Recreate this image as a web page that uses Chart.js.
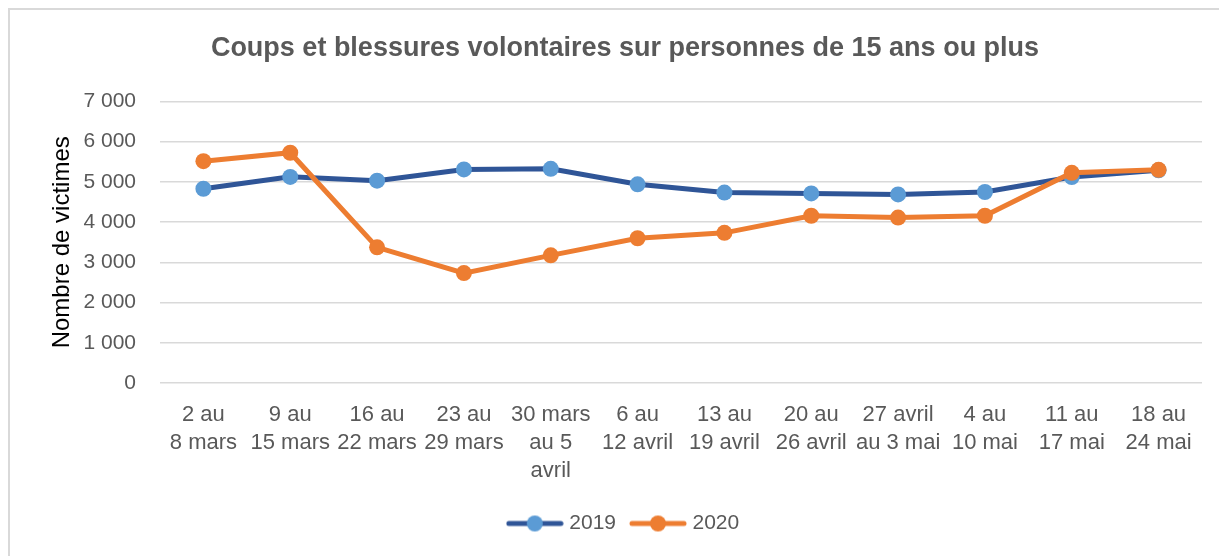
<!DOCTYPE html>
<html lang="fr">
<head>
<meta charset="utf-8">
<title>Coups et blessures volontaires</title>
<script src="https://cdn.jsdelivr.net/npm/chart.js@4.4.1/dist/chart.umd.min.js"></script>
<style>
  html, body { margin: 0; padding: 0; background: #ffffff; }
  #cadre {
    position: absolute; left: 8px; top: 8px; width: 1300px; height: 600px;
    border-left: 2px solid #d9d9d9; border-top: 2px solid #d9d9d9;
  }
  #zone { position: absolute; left: 0; top: 0; width: 1219px; height: 556px; overflow: hidden; }
  #graphique { position: absolute; left: 0; top: 0; }
</style>
</head>
<body>
<div id="zone">
  <div id="cadre"></div>
  <canvas id="graphique" width="1219" height="556"></canvas>
</div>
<script>
// Semaines (libellés sur plusieurs lignes)
const semaines = [
  ["2 au", "8 mars"],
  ["9 au", "15 mars"],
  ["16 au", "22 mars"],
  ["23 au", "29 mars"],
  ["30 mars", "au 5", "avril"],
  ["6 au", "12 avril"],
  ["13 au", "19 avril"],
  ["20 au", "26 avril"],
  ["27 avril", "au 3 mai"],
  ["4 au", "10 mai"],
  ["11 au", "17 mai"],
  ["18 au", "24 mai"]
];

// Nombre de victimes
const victimes2019 = [4830, 5125, 5030, 5310, 5325, 4940, 4735, 4715, 4690, 4750, 5120, 5290];
const victimes2020 = [5515, 5725, 3375, 2735, 3175, 3600, 3735, 4160, 4115, 4160, 5225, 5300];

const titreGraphique = "Coups et blessures volontaires sur personnes de 15 ans ou plus";
const titreAxeY = "Nombre de victimes";

const bleuLigne = "#2f5597";
const bleuPoint = "#5b9bd5";
const orange = "#ed7d31";
const gris = "#595959";

// symbole de légende : trait + point
function symbole(couleurLigne, couleurPoint) {
  const c = document.createElement("canvas");
  c.width = 58;
  c.height = 20;
  const ctx = c.getContext("2d");
  ctx.strokeStyle = couleurLigne;
  ctx.lineWidth = 5;
  ctx.lineCap = "round";
  ctx.beginPath();
  ctx.moveTo(3, 10);
  ctx.lineTo(55, 10);
  ctx.stroke();
  ctx.fillStyle = couleurPoint;
  ctx.beginPath();
  ctx.arc(29, 10, 8, 0, Math.PI * 2);
  ctx.fill();
  return c;
}

function formatMilliers(v) {
  return v.toString().replace(/\B(?=(\d{3})+(?!\d))/g, " ");
}

const ctx = document.getElementById("graphique").getContext("2d");

new Chart(ctx, {
  type: "line",
  data: {
    labels: semaines,
    datasets: [
      {
        label: "2019",
        data: victimes2019,
        borderColor: bleuLigne,
        backgroundColor: bleuPoint,
        pointBackgroundColor: bleuPoint,
        pointBorderWidth: 0,
        pointRadius: 8,
        borderWidth: 5,
        tension: 0,
        order: 1,
        symbole: symbole(bleuLigne, bleuPoint)
      },
      {
        label: "2020",
        data: victimes2020,
        borderColor: orange,
        backgroundColor: orange,
        pointBackgroundColor: orange,
        pointBorderWidth: 0,
        pointRadius: 8,
        borderWidth: 5,
        tension: 0,
        order: 0,
        symbole: symbole(orange, orange)
      }
    ]
  },
  options: {
    responsive: false,
    animation: false,
    layout: {
      padding: { left: 48, right: 17, top: 32, bottom: 12 }
    },
    plugins: {
      title: {
        display: true,
        text: titreGraphique,
        color: gris,
        font: { family: "Liberation Sans", size: 27, weight: "bold" },
        padding: { top: 0, bottom: 37 }
      },
      legend: {
        position: "bottom",
        labels: {
          usePointStyle: true,
          pointStyleWidth: 48,
          color: gris,
          font: { family: "Liberation Sans", size: 21 },
          padding: 18,
          generateLabels: function (chart) {
            return chart.data.datasets.map(function (ds, i) {
              return {
                text: ds.label,
                pointStyle: ds.symbole,
                fontColor: gris,
                hidden: false,
                datasetIndex: i,
                lineWidth: 0,
                strokeStyle: "transparent",
                fillStyle: "transparent"
              };
            });
          }
        }
      },
      tooltip: { enabled: false }
    },
    scales: {
      x: {
        offset: true,
        grid: { display: false },
        border: { display: false },
        ticks: {
          color: gris,
          font: { family: "Liberation Sans", size: 22, lineHeight: 1.27 },
          maxRotation: 0,
          autoSkip: false,
          padding: 10
        }
      },
      y: {
        min: 0,
        max: 7000,
        afterFit: function (scale) {
          scale.width = 112;
        },
        grid: { color: "#d9d9d9", lineWidth: 1.5, drawTicks: false },
        border: { display: false },
        title: {
          display: true,
          text: titreAxeY,
          color: "#000000",
          font: { family: "Liberation Sans", size: 24 },
          padding: { top: 0, bottom: 5 }
        },
        ticks: {
          stepSize: 1000,
          color: gris,
          font: { family: "Liberation Sans", size: 21 },
          padding: 24,
          callback: function (value) {
            return formatMilliers(value);
          }
        }
      }
    }
  }
});
</script>
</body>
</html>
